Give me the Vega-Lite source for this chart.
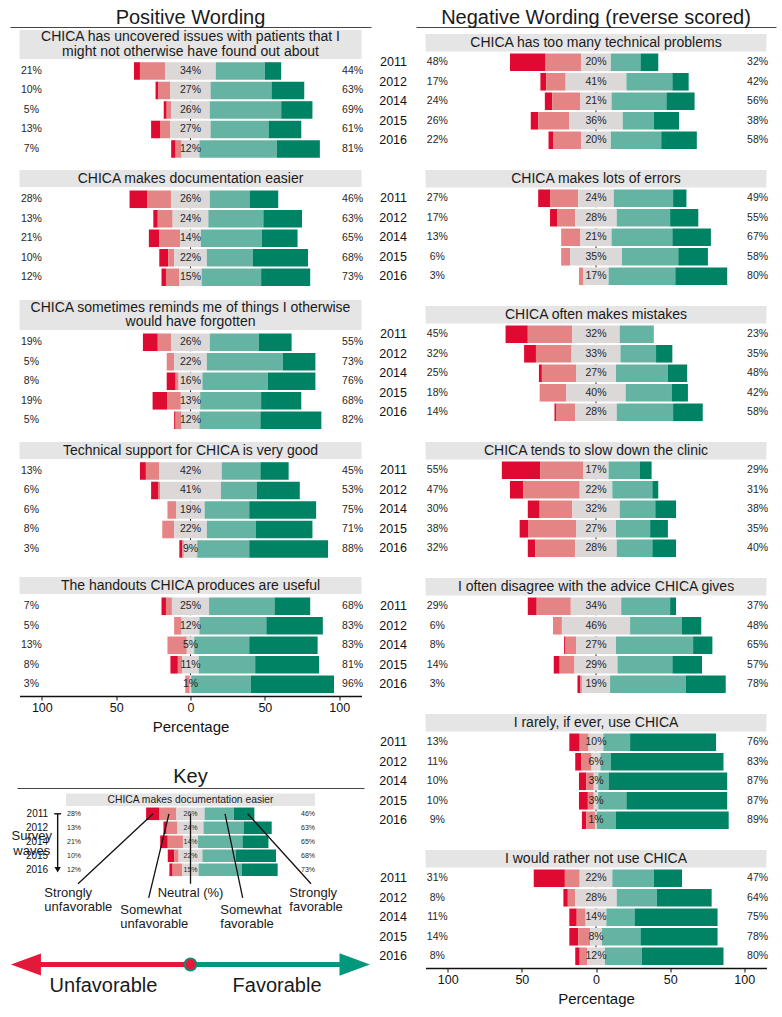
{
"$schema": "https://vega.github.io/schema/vega-lite/v6.json",
"padding": {"left": 10, "top": 5, "right": 2, "bottom": 2},
"config": {"view": {"stroke": null}, "font": "Liberation Sans", "text": {"font": "Liberation Sans"}, "axis": {"labelFont": "Liberation Sans", "titleFont": "Liberation Sans"}},
"datasets": {
"titles": [
{"q":"P1","t":"CHICA has uncovered issues with patients that I\nmight not otherwise have found out about"},
{"q":"P2","t":"CHICA makes documentation easier"},
{"q":"P3","t":"CHICA sometimes reminds me of things I otherwise\nwould have forgotten"},
{"q":"P4","t":"Technical support for CHICA is very good"},
{"q":"P5","t":"The handouts CHICA produces are useful"},
{"q":"N1","t":"CHICA has too many technical problems"},
{"q":"N2","t":"CHICA makes lots of errors"},
{"q":"N3","t":"CHICA often makes mistakes"},
{"q":"N4","t":"CHICA tends to slow down the clinic"},
{"q":"N5","t":"I often disagree with the advice CHICA gives"},
{"q":"N6","t":"I rarely, if ever, use CHICA"},
{"q":"N7","t":"I would rather not use CHICA"}
],
"bars": [
{"q":"P1","year":"2011","su":4,"wu":17,"n":34,"wf":33,"sf":11},
{"q":"P1","year":"2012","su":2,"wu":8,"n":27,"wf":41,"sf":22},
{"q":"P1","year":"2014","su":2,"wu":3,"n":26,"wf":48,"sf":21},
{"q":"P1","year":"2015","su":6,"wu":7,"n":27,"wf":39,"sf":22},
{"q":"P1","year":"2016","su":3,"wu":4,"n":12,"wf":52,"sf":29},
{"q":"P2","year":"2011","su":12,"wu":16,"n":26,"wf":27,"sf":19},
{"q":"P2","year":"2012","su":3,"wu":10,"n":24,"wf":37,"sf":26},
{"q":"P2","year":"2014","su":7,"wu":14,"n":14,"wf":41,"sf":24},
{"q":"P2","year":"2015","su":6,"wu":4,"n":22,"wf":31,"sf":37},
{"q":"P2","year":"2016","su":3,"wu":9,"n":15,"wf":40,"sf":33},
{"q":"P3","year":"2011","su":10,"wu":9,"n":26,"wf":33,"sf":22},
{"q":"P3","year":"2012","su":0,"wu":5,"n":22,"wf":51,"sf":22},
{"q":"P3","year":"2014","su":6,"wu":2,"n":16,"wf":44,"sf":32},
{"q":"P3","year":"2015","su":10,"wu":9,"n":13,"wf":41,"sf":27},
{"q":"P3","year":"2016","su":1,"wu":4,"n":12,"wf":41,"sf":41},
{"q":"P4","year":"2011","su":4,"wu":9,"n":42,"wf":26,"sf":19},
{"q":"P4","year":"2012","su":5,"wu":1,"n":41,"wf":24,"sf":29},
{"q":"P4","year":"2014","su":0,"wu":6,"n":19,"wf":30,"sf":45},
{"q":"P4","year":"2015","su":0,"wu":8,"n":22,"wf":33,"sf":38},
{"q":"P4","year":"2016","su":2,"wu":1,"n":9,"wf":35,"sf":53},
{"q":"P5","year":"2011","su":3,"wu":4,"n":25,"wf":44,"sf":24},
{"q":"P5","year":"2012","su":0,"wu":5,"n":12,"wf":45,"sf":38},
{"q":"P5","year":"2014","su":0,"wu":13,"n":5,"wf":37,"sf":46},
{"q":"P5","year":"2015","su":5,"wu":3,"n":11,"wf":38,"sf":43},
{"q":"P5","year":"2016","su":0,"wu":3,"n":1,"wf":40,"sf":56},
{"q":"N1","year":"2011","su":24,"wu":24,"n":20,"wf":20,"sf":12},
{"q":"N1","year":"2012","su":4,"wu":13,"n":41,"wf":31,"sf":11},
{"q":"N1","year":"2014","su":5,"wu":19,"n":21,"wf":37,"sf":19},
{"q":"N1","year":"2015","su":5,"wu":21,"n":36,"wf":21,"sf":17},
{"q":"N1","year":"2016","su":3,"wu":19,"n":20,"wf":34,"sf":24},
{"q":"N2","year":"2011","su":8,"wu":19,"n":24,"wf":40,"sf":9},
{"q":"N2","year":"2012","su":5,"wu":12,"n":28,"wf":36,"sf":19},
{"q":"N2","year":"2014","su":0,"wu":13,"n":21,"wf":41,"sf":26},
{"q":"N2","year":"2015","su":0,"wu":6,"n":35,"wf":38,"sf":20},
{"q":"N2","year":"2016","su":0,"wu":3,"n":17,"wf":45,"sf":35},
{"q":"N3","year":"2011","su":15,"wu":30,"n":32,"wf":23,"sf":0},
{"q":"N3","year":"2012","su":8,"wu":24,"n":33,"wf":24,"sf":11},
{"q":"N3","year":"2014","su":2,"wu":23,"n":27,"wf":35,"sf":13},
{"q":"N3","year":"2015","su":0,"wu":18,"n":40,"wf":31,"sf":11},
{"q":"N3","year":"2016","su":1,"wu":13,"n":28,"wf":38,"sf":20},
{"q":"N4","year":"2011","su":26,"wu":29,"n":17,"wf":21,"sf":8},
{"q":"N4","year":"2012","su":9,"wu":38,"n":22,"wf":27,"sf":4},
{"q":"N4","year":"2014","su":8,"wu":22,"n":32,"wf":24,"sf":14},
{"q":"N4","year":"2015","su":6,"wu":32,"n":27,"wf":23,"sf":12},
{"q":"N4","year":"2016","su":5,"wu":27,"n":28,"wf":24,"sf":16},
{"q":"N5","year":"2011","su":6,"wu":23,"n":34,"wf":33,"sf":4},
{"q":"N5","year":"2012","su":0,"wu":6,"n":46,"wf":35,"sf":13},
{"q":"N5","year":"2014","su":1,"wu":7,"n":27,"wf":52,"sf":13},
{"q":"N5","year":"2015","su":4,"wu":10,"n":29,"wf":37,"sf":20},
{"q":"N5","year":"2016","su":2,"wu":1,"n":19,"wf":51,"sf":27},
{"q":"N6","year":"2011","su":7,"wu":6,"n":10,"wf":18,"sf":58},
{"q":"N6","year":"2012","su":4,"wu":7,"n":6,"wf":7,"sf":76},
{"q":"N6","year":"2014","su":5,"wu":5,"n":3,"wf":7,"sf":80},
{"q":"N6","year":"2015","su":6,"wu":4,"n":3,"wf":19,"sf":68},
{"q":"N6","year":"2016","su":3,"wu":6,"n":1,"wf":13,"sf":76},
{"q":"N7","year":"2011","su":21,"wu":10,"n":22,"wf":28,"sf":19},
{"q":"N7","year":"2012","su":3,"wu":5,"n":28,"wf":27,"sf":37},
{"q":"N7","year":"2014","su":5,"wu":6,"n":14,"wf":19,"sf":56},
{"q":"N7","year":"2015","su":6,"wu":8,"n":8,"wf":26,"sf":52},
{"q":"N7","year":"2016","su":3,"wu":5,"n":12,"wf":25,"sf":55}
]
},
"spacing": 7,
"hconcat": [
{
"vconcat": [
{"width": 361, "height": 25, "data": {"values": [{}]},
 "mark": {"type": "text", "fontSize": 20, "color": "#1a1a1a"},
 "encoding": {"text": {"value": "Positive Wording"}, "x": {"datum": 0, "type": "quantitative", "scale": {"domain": [-1, 1]}, "axis": {"domain": true, "domainColor": "#444", "domainWidth": 1, "ticks": false, "labels": false, "grid": false, "title": null, "offset": -3}}}},

{"width": 342, "height": 29, "view": {"fill": "#e5e5e5", "stroke": null}, "data": {"name": "titles"}, "transform": [{"filter": "datum.q == 'P1'"}],
 "mark": {"type": "text", "fontSize": 14, "lineBreak": "\n", "lineHeight": 14.5, "dy": -7.25, "color": "#1a1a1a"}, "encoding": {"text": {"field": "t", "type": "nominal"}}},
{"width": 342, "height": 111, "data": {"name": "bars"}, "transform": [{"filter": "datum.q == 'P1'"}],
 "layer": [
  {"data": {"name": "titles"}, "transform": [{"filter": "datum.q == 'P1'"}], "mark": {"type": "rule", "strokeDash": [3, 3], "color": "#222", "strokeWidth": 1},
   "encoding": {"x": {"datum": 0, "type": "quantitative", "scale": {"domain": [-115, 115], "nice": false, "zero": false}, "axis": null}, "y": {"datum": "2011", "type": "nominal", "scale": {"type": "band", "domain": ["2011","2012","2014","2015","2016"], "paddingInner": 0.1, "paddingOuter": 0.3962, "align": 0.207}, "axis": null}, "y2": {"datum": "2016"}}},
  {"transform": [{"fold": ["su","wu","n","wf","sf"], "as": ["cat","v"]}, {"calculate": "indexof(['su','wu','n','wf','sf'], datum.cat)", "as": "ord"}, {"stack": "v", "groupby": ["year"], "sort": [{"field": "ord", "order": "ascending"}], "as": ["s0","s1"]}, {"calculate": "datum.s0 - datum.su - datum.wu - datum.n / 2", "as": "x0"}, {"calculate": "datum.s1 - datum.su - datum.wu - datum.n / 2", "as": "x1"}],
   "mark": {"type": "bar"},
   "encoding": {"y": {"field": "year", "type": "nominal", "scale": {"type": "band", "domain": ["2011","2012","2014","2015","2016"], "paddingInner": 0.1, "paddingOuter": 0.3962, "align": 0.207}, "axis": null}, "x": {"field": "x0", "type": "quantitative", "scale": {"domain": [-115, 115], "nice": false, "zero": false}, "axis": null}, "x2": {"field": "x1"}, "color": {"field": "cat", "type": "nominal", "scale": {"domain": ["su","wu","n","wf","sf"], "range": ["#df0a32","#e58484","#dbd8d7","#65b3a2","#008265"]}, "legend": null}}},
  {"transform": [{"calculate": "(datum.su + datum.wu) + '%'", "as": "lab"}], "mark": {"type": "text", "fontSize": 10.5, "color": "#262626"},
   "encoding": {"y": {"field": "year", "type": "nominal", "scale": {"type": "band", "domain": ["2011","2012","2014","2015","2016"], "paddingInner": 0.1, "paddingOuter": 0.3962, "align": 0.207}, "axis": null}, "x": {"datum": -107, "type": "quantitative", "scale": {"domain": [-115, 115], "nice": false, "zero": false}, "axis": null}, "text": {"field": "lab"}}},
  {"transform": [{"calculate": "datum.n + '%'", "as": "lab"}], "mark": {"type": "text", "fontSize": 10.5, "color": "#262626"},
   "encoding": {"y": {"field": "year", "type": "nominal", "scale": {"type": "band", "domain": ["2011","2012","2014","2015","2016"], "paddingInner": 0.1, "paddingOuter": 0.3962, "align": 0.207}, "axis": null}, "x": {"datum": 0, "type": "quantitative", "scale": {"domain": [-115, 115], "nice": false, "zero": false}, "axis": null}, "text": {"field": "lab"}}},
  {"transform": [{"calculate": "(datum.wf + datum.sf) + '%'", "as": "lab"}], "mark": {"type": "text", "fontSize": 10.5, "color": "#262626"},
   "encoding": {"y": {"field": "year", "type": "nominal", "scale": {"type": "band", "domain": ["2011","2012","2014","2015","2016"], "paddingInner": 0.1, "paddingOuter": 0.3962, "align": 0.207}, "axis": null}, "x": {"datum": 109, "type": "quantitative", "scale": {"domain": [-115, 115], "nice": false, "zero": false}, "axis": null}, "text": {"field": "lab"}}}
 ]},

{"width": 342, "height": 17, "view": {"fill": "#e5e5e5", "stroke": null}, "data": {"name": "titles"}, "transform": [{"filter": "datum.q == 'P2'"}],
 "mark": {"type": "text", "fontSize": 14, "lineBreak": "\n", "lineHeight": 14.5, "color": "#1a1a1a"}, "encoding": {"text": {"field": "t", "type": "nominal"}}},
{"width": 342, "height": 113, "data": {"name": "bars"}, "transform": [{"filter": "datum.q == 'P2'"}],
 "layer": [
  {"data": {"name": "titles"}, "transform": [{"filter": "datum.q == 'P2'"}], "mark": {"type": "rule", "strokeDash": [3, 3], "color": "#222", "strokeWidth": 1},
   "encoding": {"x": {"datum": 0, "type": "quantitative", "scale": {"domain": [-115, 115], "nice": false, "zero": false}, "axis": null}, "y": {"datum": "2011", "type": "nominal", "scale": {"type": "band", "domain": ["2011","2012","2014","2015","2016"], "paddingInner": 0.1, "paddingOuter": 0.4474, "align": 0.2006}, "axis": null}, "y2": {"datum": "2016"}}},
  {"transform": [{"fold": ["su","wu","n","wf","sf"], "as": ["cat","v"]}, {"calculate": "indexof(['su','wu','n','wf','sf'], datum.cat)", "as": "ord"}, {"stack": "v", "groupby": ["year"], "sort": [{"field": "ord", "order": "ascending"}], "as": ["s0","s1"]}, {"calculate": "datum.s0 - datum.su - datum.wu - datum.n / 2", "as": "x0"}, {"calculate": "datum.s1 - datum.su - datum.wu - datum.n / 2", "as": "x1"}],
   "mark": {"type": "bar"},
   "encoding": {"y": {"field": "year", "type": "nominal", "scale": {"type": "band", "domain": ["2011","2012","2014","2015","2016"], "paddingInner": 0.1, "paddingOuter": 0.4474, "align": 0.2006}, "axis": null}, "x": {"field": "x0", "type": "quantitative", "scale": {"domain": [-115, 115], "nice": false, "zero": false}, "axis": null}, "x2": {"field": "x1"}, "color": {"field": "cat", "type": "nominal", "scale": {"domain": ["su","wu","n","wf","sf"], "range": ["#df0a32","#e58484","#dbd8d7","#65b3a2","#008265"]}, "legend": null}}},
  {"transform": [{"calculate": "(datum.su + datum.wu) + '%'", "as": "lab"}], "mark": {"type": "text", "fontSize": 10.5, "color": "#262626"},
   "encoding": {"y": {"field": "year", "type": "nominal", "scale": {"type": "band", "domain": ["2011","2012","2014","2015","2016"], "paddingInner": 0.1, "paddingOuter": 0.4474, "align": 0.2006}, "axis": null}, "x": {"datum": -107, "type": "quantitative", "scale": {"domain": [-115, 115], "nice": false, "zero": false}, "axis": null}, "text": {"field": "lab"}}},
  {"transform": [{"calculate": "datum.n + '%'", "as": "lab"}], "mark": {"type": "text", "fontSize": 10.5, "color": "#262626"},
   "encoding": {"y": {"field": "year", "type": "nominal", "scale": {"type": "band", "domain": ["2011","2012","2014","2015","2016"], "paddingInner": 0.1, "paddingOuter": 0.4474, "align": 0.2006}, "axis": null}, "x": {"datum": 0, "type": "quantitative", "scale": {"domain": [-115, 115], "nice": false, "zero": false}, "axis": null}, "text": {"field": "lab"}}},
  {"transform": [{"calculate": "(datum.wf + datum.sf) + '%'", "as": "lab"}], "mark": {"type": "text", "fontSize": 10.5, "color": "#262626"},
   "encoding": {"y": {"field": "year", "type": "nominal", "scale": {"type": "band", "domain": ["2011","2012","2014","2015","2016"], "paddingInner": 0.1, "paddingOuter": 0.4474, "align": 0.2006}, "axis": null}, "x": {"datum": 109, "type": "quantitative", "scale": {"domain": [-115, 115], "nice": false, "zero": false}, "axis": null}, "text": {"field": "lab"}}}
 ]},

{"width": 342, "height": 30, "view": {"fill": "#e5e5e5", "stroke": null}, "data": {"name": "titles"}, "transform": [{"filter": "datum.q == 'P3'"}],
 "mark": {"type": "text", "fontSize": 14, "lineBreak": "\n", "lineHeight": 14.5, "dy": -7.25, "color": "#1a1a1a"}, "encoding": {"text": {"field": "t", "type": "nominal"}}},
{"width": 342, "height": 112, "data": {"name": "bars"}, "transform": [{"filter": "datum.q == 'P3'"}],
 "layer": [
  {"data": {"name": "titles"}, "transform": [{"filter": "datum.q == 'P3'"}], "mark": {"type": "rule", "strokeDash": [3, 3], "color": "#222", "strokeWidth": 1},
   "encoding": {"x": {"datum": 0, "type": "quantitative", "scale": {"domain": [-115, 115], "nice": false, "zero": false}, "axis": null}, "y": {"datum": "2011", "type": "nominal", "scale": {"type": "band", "domain": ["2011","2012","2014","2015","2016"], "paddingInner": 0.1, "paddingOuter": 0.4218, "align": 0.2128}, "axis": null}, "y2": {"datum": "2016"}}},
  {"transform": [{"fold": ["su","wu","n","wf","sf"], "as": ["cat","v"]}, {"calculate": "indexof(['su','wu','n','wf','sf'], datum.cat)", "as": "ord"}, {"stack": "v", "groupby": ["year"], "sort": [{"field": "ord", "order": "ascending"}], "as": ["s0","s1"]}, {"calculate": "datum.s0 - datum.su - datum.wu - datum.n / 2", "as": "x0"}, {"calculate": "datum.s1 - datum.su - datum.wu - datum.n / 2", "as": "x1"}],
   "mark": {"type": "bar"},
   "encoding": {"y": {"field": "year", "type": "nominal", "scale": {"type": "band", "domain": ["2011","2012","2014","2015","2016"], "paddingInner": 0.1, "paddingOuter": 0.4218, "align": 0.2128}, "axis": null}, "x": {"field": "x0", "type": "quantitative", "scale": {"domain": [-115, 115], "nice": false, "zero": false}, "axis": null}, "x2": {"field": "x1"}, "color": {"field": "cat", "type": "nominal", "scale": {"domain": ["su","wu","n","wf","sf"], "range": ["#df0a32","#e58484","#dbd8d7","#65b3a2","#008265"]}, "legend": null}}},
  {"transform": [{"calculate": "(datum.su + datum.wu) + '%'", "as": "lab"}], "mark": {"type": "text", "fontSize": 10.5, "color": "#262626"},
   "encoding": {"y": {"field": "year", "type": "nominal", "scale": {"type": "band", "domain": ["2011","2012","2014","2015","2016"], "paddingInner": 0.1, "paddingOuter": 0.4218, "align": 0.2128}, "axis": null}, "x": {"datum": -107, "type": "quantitative", "scale": {"domain": [-115, 115], "nice": false, "zero": false}, "axis": null}, "text": {"field": "lab"}}},
  {"transform": [{"calculate": "datum.n + '%'", "as": "lab"}], "mark": {"type": "text", "fontSize": 10.5, "color": "#262626"},
   "encoding": {"y": {"field": "year", "type": "nominal", "scale": {"type": "band", "domain": ["2011","2012","2014","2015","2016"], "paddingInner": 0.1, "paddingOuter": 0.4218, "align": 0.2128}, "axis": null}, "x": {"datum": 0, "type": "quantitative", "scale": {"domain": [-115, 115], "nice": false, "zero": false}, "axis": null}, "text": {"field": "lab"}}},
  {"transform": [{"calculate": "(datum.wf + datum.sf) + '%'", "as": "lab"}], "mark": {"type": "text", "fontSize": 10.5, "color": "#262626"},
   "encoding": {"y": {"field": "year", "type": "nominal", "scale": {"type": "band", "domain": ["2011","2012","2014","2015","2016"], "paddingInner": 0.1, "paddingOuter": 0.4218, "align": 0.2128}, "axis": null}, "x": {"datum": 109, "type": "quantitative", "scale": {"domain": [-115, 115], "nice": false, "zero": false}, "axis": null}, "text": {"field": "lab"}}}
 ]},

{"width": 342, "height": 17, "view": {"fill": "#e5e5e5", "stroke": null}, "data": {"name": "titles"}, "transform": [{"filter": "datum.q == 'P4'"}],
 "mark": {"type": "text", "fontSize": 14, "lineBreak": "\n", "lineHeight": 14.5, "color": "#1a1a1a"}, "encoding": {"text": {"field": "t", "type": "nominal"}}},
{"width": 342, "height": 118, "data": {"name": "bars"}, "transform": [{"filter": "datum.q == 'P4'"}],
 "layer": [
  {"data": {"name": "titles"}, "transform": [{"filter": "datum.q == 'P4'"}], "mark": {"type": "rule", "strokeDash": [3, 3], "color": "#222", "strokeWidth": 1},
   "encoding": {"x": {"datum": 0, "type": "quantitative", "scale": {"domain": [-115, 115], "nice": false, "zero": false}, "axis": null}, "y": {"datum": "2011", "type": "nominal", "scale": {"type": "band", "domain": ["2011","2012","2014","2015","2016"], "paddingInner": 0.1, "paddingOuter": 0.5756, "align": 0.1425}, "axis": null}, "y2": {"datum": "2016"}}},
  {"transform": [{"fold": ["su","wu","n","wf","sf"], "as": ["cat","v"]}, {"calculate": "indexof(['su','wu','n','wf','sf'], datum.cat)", "as": "ord"}, {"stack": "v", "groupby": ["year"], "sort": [{"field": "ord", "order": "ascending"}], "as": ["s0","s1"]}, {"calculate": "datum.s0 - datum.su - datum.wu - datum.n / 2", "as": "x0"}, {"calculate": "datum.s1 - datum.su - datum.wu - datum.n / 2", "as": "x1"}],
   "mark": {"type": "bar"},
   "encoding": {"y": {"field": "year", "type": "nominal", "scale": {"type": "band", "domain": ["2011","2012","2014","2015","2016"], "paddingInner": 0.1, "paddingOuter": 0.5756, "align": 0.1425}, "axis": null}, "x": {"field": "x0", "type": "quantitative", "scale": {"domain": [-115, 115], "nice": false, "zero": false}, "axis": null}, "x2": {"field": "x1"}, "color": {"field": "cat", "type": "nominal", "scale": {"domain": ["su","wu","n","wf","sf"], "range": ["#df0a32","#e58484","#dbd8d7","#65b3a2","#008265"]}, "legend": null}}},
  {"transform": [{"calculate": "(datum.su + datum.wu) + '%'", "as": "lab"}], "mark": {"type": "text", "fontSize": 10.5, "color": "#262626"},
   "encoding": {"y": {"field": "year", "type": "nominal", "scale": {"type": "band", "domain": ["2011","2012","2014","2015","2016"], "paddingInner": 0.1, "paddingOuter": 0.5756, "align": 0.1425}, "axis": null}, "x": {"datum": -107, "type": "quantitative", "scale": {"domain": [-115, 115], "nice": false, "zero": false}, "axis": null}, "text": {"field": "lab"}}},
  {"transform": [{"calculate": "datum.n + '%'", "as": "lab"}], "mark": {"type": "text", "fontSize": 10.5, "color": "#262626"},
   "encoding": {"y": {"field": "year", "type": "nominal", "scale": {"type": "band", "domain": ["2011","2012","2014","2015","2016"], "paddingInner": 0.1, "paddingOuter": 0.5756, "align": 0.1425}, "axis": null}, "x": {"datum": 0, "type": "quantitative", "scale": {"domain": [-115, 115], "nice": false, "zero": false}, "axis": null}, "text": {"field": "lab"}}},
  {"transform": [{"calculate": "(datum.wf + datum.sf) + '%'", "as": "lab"}], "mark": {"type": "text", "fontSize": 10.5, "color": "#262626"},
   "encoding": {"y": {"field": "year", "type": "nominal", "scale": {"type": "band", "domain": ["2011","2012","2014","2015","2016"], "paddingInner": 0.1, "paddingOuter": 0.5756, "align": 0.1425}, "axis": null}, "x": {"datum": 109, "type": "quantitative", "scale": {"domain": [-115, 115], "nice": false, "zero": false}, "axis": null}, "text": {"field": "lab"}}}
 ]},

{"width": 342, "height": 17, "view": {"fill": "#e5e5e5", "stroke": null}, "data": {"name": "titles"}, "transform": [{"filter": "datum.q == 'P5'"}],
 "mark": {"type": "text", "fontSize": 14, "lineBreak": "\n", "lineHeight": 14.5, "color": "#1a1a1a"}, "encoding": {"text": {"field": "t", "type": "nominal"}}},
{"width": 342, "height": 102, "data": {"name": "bars"}, "transform": [{"filter": "datum.q == 'P5'"}],
 "layer": [
  {"data": {"name": "titles"}, "transform": [{"filter": "datum.q == 'P5'"}], "mark": {"type": "rule", "strokeDash": [3, 3], "color": "#222", "strokeWidth": 1},
   "encoding": {"x": {"datum": 0, "type": "quantitative", "scale": {"domain": [-115, 115], "nice": false, "zero": false}}, "y": {"datum": "2011", "type": "nominal", "scale": {"type": "band", "domain": ["2011","2012","2014","2015","2016"], "paddingInner": 0.1, "paddingOuter": 0.1654, "align": 0.5426}, "axis": null}, "y2": {"datum": "2016"}}},
  {"transform": [{"fold": ["su","wu","n","wf","sf"], "as": ["cat","v"]}, {"calculate": "indexof(['su','wu','n','wf','sf'], datum.cat)", "as": "ord"}, {"stack": "v", "groupby": ["year"], "sort": [{"field": "ord", "order": "ascending"}], "as": ["s0","s1"]}, {"calculate": "datum.s0 - datum.su - datum.wu - datum.n / 2", "as": "x0"}, {"calculate": "datum.s1 - datum.su - datum.wu - datum.n / 2", "as": "x1"}],
   "mark": {"type": "bar"},
   "encoding": {"y": {"field": "year", "type": "nominal", "scale": {"type": "band", "domain": ["2011","2012","2014","2015","2016"], "paddingInner": 0.1, "paddingOuter": 0.1654, "align": 0.5426}, "axis": null}, "x": {"field": "x0", "type": "quantitative", "scale": {"domain": [-115, 115], "nice": false, "zero": false}, "axis": {"values": [-100, -50, 0, 50, 100], "labelExpr": "abs(datum.value)", "title": "Percentage", "titleFontSize": 15, "titleFontWeight": "normal", "titleColor": "#111", "titlePadding": 6, "labelFontSize": 12.5, "labelColor": "#111", "labelPadding": 1, "domainColor": "#111", "domainWidth": 1.6, "tickColor": "#111", "tickSize": 4, "tickWidth": 1, "grid": false}}, "x2": {"field": "x1"}, "color": {"field": "cat", "type": "nominal", "scale": {"domain": ["su","wu","n","wf","sf"], "range": ["#df0a32","#e58484","#dbd8d7","#65b3a2","#008265"]}, "legend": null}}},
  {"transform": [{"calculate": "(datum.su + datum.wu) + '%'", "as": "lab"}], "mark": {"type": "text", "fontSize": 10.5, "color": "#262626"},
   "encoding": {"y": {"field": "year", "type": "nominal", "scale": {"type": "band", "domain": ["2011","2012","2014","2015","2016"], "paddingInner": 0.1, "paddingOuter": 0.1654, "align": 0.5426}, "axis": null}, "x": {"datum": -107, "type": "quantitative", "scale": {"domain": [-115, 115], "nice": false, "zero": false}}, "text": {"field": "lab"}}},
  {"transform": [{"calculate": "datum.n + '%'", "as": "lab"}], "mark": {"type": "text", "fontSize": 10.5, "color": "#262626"},
   "encoding": {"y": {"field": "year", "type": "nominal", "scale": {"type": "band", "domain": ["2011","2012","2014","2015","2016"], "paddingInner": 0.1, "paddingOuter": 0.1654, "align": 0.5426}, "axis": null}, "x": {"datum": 0, "type": "quantitative", "scale": {"domain": [-115, 115], "nice": false, "zero": false}}, "text": {"field": "lab"}}},
  {"transform": [{"calculate": "(datum.wf + datum.sf) + '%'", "as": "lab"}], "mark": {"type": "text", "fontSize": 10.5, "color": "#262626"},
   "encoding": {"y": {"field": "year", "type": "nominal", "scale": {"type": "band", "domain": ["2011","2012","2014","2015","2016"], "paddingInner": 0.1, "paddingOuter": 0.1654, "align": 0.5426}, "axis": null}, "x": {"datum": 109, "type": "quantitative", "scale": {"domain": [-115, 115], "nice": false, "zero": false}}, "text": {"field": "lab"}}}
 ]},

{"width": 10, "height": 70, "data": {"values": [{}]}, "mark": {"type": "text"}, "encoding": {"text": {"value": ""}}},

{"width": 347, "height": 22, "data": {"values": [{}]},
 "mark": {"type": "text", "fontSize": 20, "color": "#1a1a1a"},
 "encoding": {"text": {"value": "Key"}, "x": {"datum": 0, "type": "quantitative", "scale": {"domain": [-1, 1]}, "axis": {"domain": true, "domainColor": "#444", "domainWidth": 1, "ticks": false, "labels": false, "grid": false, "title": null}}}},

{"width": 249, "height": 165.5, "data": {"name": "bars"}, "transform": [{"filter": "datum.q == 'P2'"}],
 "layer": [
  {"data": {"name": "titles"}, "transform": [{"filter": "datum.q == 'P2'"}], "mark": {"type": "rect", "color": "#e5e5e5"},
   "encoding": {"x": {"datum": -115, "type": "quantitative", "scale": {"domain": [-115, 115], "nice": false, "zero": false}, "axis": null}, "x2": {"datum": 115}, "y": {"datum": "h", "type": "nominal", "scale": {"type": "band", "domain": ["h","2011","2012","2014","2015","2016","L1","L2","L3","L4"], "paddingInner": 0.1, "paddingOuter": 0.9607, "align": 0.2045}, "axis": null}}},
  {"data": {"name": "titles"}, "transform": [{"filter": "datum.q == 'P2'"}], "mark": {"type": "text", "fontSize": 10.3, "color": "#1a1a1a"},
   "encoding": {"x": {"datum": 0, "type": "quantitative", "scale": {"domain": [-115, 115], "nice": false, "zero": false}, "axis": null}, "y": {"datum": "h", "type": "nominal", "scale": {"type": "band", "domain": ["h","2011","2012","2014","2015","2016","L1","L2","L3","L4"], "paddingInner": 0.1, "paddingOuter": 0.9607, "align": 0.2045}, "axis": null}, "text": {"field": "t", "type": "nominal"}}},
  {"transform": [{"fold": ["su","wu","n","wf","sf"], "as": ["cat","v"]}, {"calculate": "indexof(['su','wu','n','wf','sf'], datum.cat)", "as": "ord"}, {"stack": "v", "groupby": ["year"], "sort": [{"field": "ord", "order": "ascending"}], "as": ["s0","s1"]}, {"calculate": "datum.s0 - datum.su - datum.wu - datum.n / 2", "as": "x0"}, {"calculate": "datum.s1 - datum.su - datum.wu - datum.n / 2", "as": "x1"}],
   "mark": {"type": "bar"},
   "encoding": {"y": {"field": "year", "type": "nominal", "scale": {"type": "band", "domain": ["h","2011","2012","2014","2015","2016","L1","L2","L3","L4"], "paddingInner": 0.1, "paddingOuter": 0.9607, "align": 0.2045}, "axis": null}, "x": {"field": "x0", "type": "quantitative", "scale": {"domain": [-115, 115], "nice": false, "zero": false}, "axis": null}, "x2": {"field": "x1"}, "color": {"field": "cat", "type": "nominal", "scale": {"domain": ["su","wu","n","wf","sf"], "range": ["#df0a32","#e58484","#dbd8d7","#65b3a2","#008265"]}, "legend": null}}},
  {"transform": [{"calculate": "(datum.su + datum.wu) + '%'", "as": "lab"}], "mark": {"type": "text", "fontSize": 7, "color": "#262626"},
   "encoding": {"y": {"field": "year", "type": "nominal", "scale": {"type": "band", "domain": ["h","2011","2012","2014","2015","2016","L1","L2","L3","L4"], "paddingInner": 0.1, "paddingOuter": 0.9607, "align": 0.2045}, "axis": null}, "x": {"datum": -107.6, "type": "quantitative", "scale": {"domain": [-115, 115], "nice": false, "zero": false}, "axis": null}, "text": {"field": "lab"}}},
  {"transform": [{"calculate": "datum.n + '%'", "as": "lab"}], "mark": {"type": "text", "fontSize": 7, "color": "#262626"},
   "encoding": {"y": {"field": "year", "type": "nominal", "scale": {"type": "band", "domain": ["h","2011","2012","2014","2015","2016","L1","L2","L3","L4"], "paddingInner": 0.1, "paddingOuter": 0.9607, "align": 0.2045}, "axis": null}, "x": {"datum": 0, "type": "quantitative", "scale": {"domain": [-115, 115], "nice": false, "zero": false}, "axis": null}, "text": {"field": "lab"}}},
  {"transform": [{"calculate": "(datum.wf + datum.sf) + '%'", "as": "lab"}], "mark": {"type": "text", "fontSize": 7, "color": "#262626"},
   "encoding": {"y": {"field": "year", "type": "nominal", "scale": {"type": "band", "domain": ["h","2011","2012","2014","2015","2016","L1","L2","L3","L4"], "paddingInner": 0.1, "paddingOuter": 0.9607, "align": 0.2045}, "axis": null}, "x": {"datum": 108.6, "type": "quantitative", "scale": {"domain": [-115, 115], "nice": false, "zero": false}, "axis": null}, "text": {"field": "lab"}}},
  {"mark": {"type": "text", "fontSize": 10, "align": "right", "color": "#111"},
   "encoding": {"y": {"field": "year", "type": "nominal", "scale": {"type": "band", "domain": ["h","2011","2012","2014","2015","2016","L1","L2","L3","L4"], "paddingInner": 0.1, "paddingOuter": 0.9607, "align": 0.2045}, "axis": null}, "x": {"datum": -131.5, "type": "quantitative", "scale": {"domain": [-115, 115], "nice": false, "zero": false}, "axis": null}, "text": {"field": "year"}}},
  {"data": {"name": "titles"}, "transform": [{"filter": "datum.q == 'P2'"}], "mark": {"type": "text", "fontSize": 13, "lineBreak": "\n", "lineHeight": 15, "dy": -6, "color": "#1a1a1a"},
   "encoding": {"y": {"datum": "2014", "type": "nominal", "scale": {"type": "band", "domain": ["h","2011","2012","2014","2015","2016","L1","L2","L3","L4"], "paddingInner": 0.1, "paddingOuter": 0.9607, "align": 0.2045}, "axis": null}, "x": {"datum": -146.6, "type": "quantitative", "scale": {"domain": [-115, 115], "nice": false, "zero": false}, "axis": null}, "text": {"value": "Survey\nwaves"}}},
  {"data": {"name": "titles"}, "transform": [{"filter": "datum.q == 'P2'"}], "mark": {"type": "rule", "color": "#111", "strokeWidth": 1.4},
   "encoding": {"y": {"datum": "2011", "type": "nominal", "scale": {"type": "band", "domain": ["h","2011","2012","2014","2015","2016","L1","L2","L3","L4"], "paddingInner": 0.1, "paddingOuter": 0.9607, "align": 0.2045}, "axis": null}, "y2": {"datum": "2016"}, "x": {"datum": -122.7, "type": "quantitative", "scale": {"domain": [-115, 115], "nice": false, "zero": false}, "axis": null}}},
  {"data": {"name": "titles"}, "transform": [{"filter": "datum.q == 'P2'"}], "mark": {"type": "rule", "color": "#111", "strokeWidth": 1.4},
   "encoding": {"y": {"datum": "2011", "type": "nominal", "scale": {"type": "band", "domain": ["h","2011","2012","2014","2015","2016","L1","L2","L3","L4"], "paddingInner": 0.1, "paddingOuter": 0.9607, "align": 0.2045}, "axis": null}, "x": {"datum": -125.9, "type": "quantitative", "scale": {"domain": [-115, 115], "nice": false, "zero": false}, "axis": null}, "x2": {"datum": -119.5}}},
  {"data": {"name": "titles"}, "transform": [{"filter": "datum.q == 'P2'"}], "mark": {"type": "point", "shape": "triangle-down", "filled": true, "opacity": 1, "size": 40, "color": "#111"},
   "encoding": {"y": {"datum": "2016", "type": "nominal", "scale": {"type": "band", "domain": ["h","2011","2012","2014","2015","2016","L1","L2","L3","L4"], "paddingInner": 0.1, "paddingOuter": 0.9607, "align": 0.2045}, "axis": null}, "x": {"datum": -122.7, "type": "quantitative", "scale": {"domain": [-115, 115], "nice": false, "zero": false}, "axis": null}}},
  {"data": {"name": "titles"}, "transform": [{"filter": "datum.q == 'P2'"}], "mark": {"type": "rule", "color": "#111", "strokeWidth": 1.3},
   "encoding": {"y": {"datum": "2011", "type": "nominal", "scale": {"type": "band", "domain": ["h","2011","2012","2014","2015","2016","L1","L2","L3","L4"], "paddingInner": 0.1, "paddingOuter": 0.9607, "align": 0.2045}, "axis": null}, "y2": {"datum": "L1"}, "x": {"datum": -34.6, "type": "quantitative", "scale": {"domain": [-115, 115], "nice": false, "zero": false}, "axis": null}, "x2": {"datum": -103.9}}},
  {"data": {"name": "titles"}, "transform": [{"filter": "datum.q == 'P2'"}], "mark": {"type": "rule", "color": "#111", "strokeWidth": 1.3},
   "encoding": {"y": {"datum": "2011", "type": "nominal", "scale": {"type": "band", "domain": ["h","2011","2012","2014","2015","2016","L1","L2","L3","L4"], "paddingInner": 0.1, "paddingOuter": 0.9607, "align": 0.2045}, "axis": null}, "y2": {"datum": "L2"}, "x": {"datum": -19.9, "type": "quantitative", "scale": {"domain": [-115, 115], "nice": false, "zero": false}, "axis": null}, "x2": {"datum": -38.6}}},
  {"data": {"name": "titles"}, "transform": [{"filter": "datum.q == 'P2'"}], "mark": {"type": "rule", "color": "#111", "strokeWidth": 1.3},
   "encoding": {"y": {"datum": "2011", "type": "nominal", "scale": {"type": "band", "domain": ["h","2011","2012","2014","2015","2016","L1","L2","L3","L4"], "paddingInner": 0.1, "paddingOuter": 0.9607, "align": 0.2045}, "axis": null}, "y2": {"datum": "L1"}, "x": {"datum": 0, "type": "quantitative", "scale": {"domain": [-115, 115], "nice": false, "zero": false}, "axis": null}}},
  {"data": {"name": "titles"}, "transform": [{"filter": "datum.q == 'P2'"}], "mark": {"type": "rule", "color": "#111", "strokeWidth": 1.3},
   "encoding": {"y": {"datum": "2011", "type": "nominal", "scale": {"type": "band", "domain": ["h","2011","2012","2014","2015","2016","L1","L2","L3","L4"], "paddingInner": 0.1, "paddingOuter": 0.9607, "align": 0.2045}, "axis": null}, "y2": {"datum": "L2"}, "x": {"datum": 31.9, "type": "quantitative", "scale": {"domain": [-115, 115], "nice": false, "zero": false}, "axis": null}, "x2": {"datum": 48.2}}},
  {"data": {"name": "titles"}, "transform": [{"filter": "datum.q == 'P2'"}], "mark": {"type": "rule", "color": "#111", "strokeWidth": 1.3},
   "encoding": {"y": {"datum": "2011", "type": "nominal", "scale": {"type": "band", "domain": ["h","2011","2012","2014","2015","2016","L1","L2","L3","L4"], "paddingInner": 0.1, "paddingOuter": 0.9607, "align": 0.2045}, "axis": null}, "y2": {"datum": "L1"}, "x": {"datum": 52.8, "type": "quantitative", "scale": {"domain": [-115, 115], "nice": false, "zero": false}, "axis": null}, "x2": {"datum": 111.3}}},
  {"data": {"name": "titles"}, "transform": [{"filter": "datum.q == 'P2'"}], "mark": {"type": "text", "fontSize": 13, "align": "left", "lineBreak": "\n", "lineHeight": 14.6, "dy": -5, "color": "#1a1a1a"},
   "encoding": {"y": {"datum": "L2", "type": "nominal", "scale": {"type": "band", "domain": ["h","2011","2012","2014","2015","2016","L1","L2","L3","L4"], "paddingInner": 0.1, "paddingOuter": 0.9607, "align": 0.2045}, "axis": null}, "x": {"datum": -135, "type": "quantitative", "scale": {"domain": [-115, 115], "nice": false, "zero": false}, "axis": null}, "text": {"value": "Strongly\nunfavorable"}}},
  {"data": {"name": "titles"}, "transform": [{"filter": "datum.q == 'P2'"}], "mark": {"type": "text", "fontSize": 13, "align": "left", "lineBreak": "\n", "lineHeight": 14.6, "dy": -2, "color": "#1a1a1a"},
   "encoding": {"y": {"datum": "L3", "type": "nominal", "scale": {"type": "band", "domain": ["h","2011","2012","2014","2015","2016","L1","L2","L3","L4"], "paddingInner": 0.1, "paddingOuter": 0.9607, "align": 0.2045}, "axis": null}, "x": {"datum": -64.8, "type": "quantitative", "scale": {"domain": [-115, 115], "nice": false, "zero": false}, "axis": null}, "text": {"value": "Somewhat\nunfavorable"}}},
  {"data": {"name": "titles"}, "transform": [{"filter": "datum.q == 'P2'"}], "mark": {"type": "text", "fontSize": 13, "align": "center", "dy": 9, "color": "#1a1a1a"},
   "encoding": {"y": {"datum": "L1", "type": "nominal", "scale": {"type": "band", "domain": ["h","2011","2012","2014","2015","2016","L1","L2","L3","L4"], "paddingInner": 0.1, "paddingOuter": 0.9607, "align": 0.2045}, "axis": null}, "x": {"datum": 0, "type": "quantitative", "scale": {"domain": [-115, 115], "nice": false, "zero": false}, "axis": null}, "text": {"value": "Neutral (%)"}}},
  {"data": {"name": "titles"}, "transform": [{"filter": "datum.q == 'P2'"}], "mark": {"type": "text", "fontSize": 13, "align": "left", "lineBreak": "\n", "lineHeight": 14.6, "dy": -2, "color": "#1a1a1a"},
   "encoding": {"y": {"datum": "L3", "type": "nominal", "scale": {"type": "band", "domain": ["h","2011","2012","2014","2015","2016","L1","L2","L3","L4"], "paddingInner": 0.1, "paddingOuter": 0.9607, "align": 0.2045}, "axis": null}, "x": {"datum": 27.5, "type": "quantitative", "scale": {"domain": [-115, 115], "nice": false, "zero": false}, "axis": null}, "text": {"value": "Somewhat\nfavorable"}}},
  {"data": {"name": "titles"}, "transform": [{"filter": "datum.q == 'P2'"}], "mark": {"type": "text", "fontSize": 13, "align": "left", "lineBreak": "\n", "lineHeight": 14.6, "dy": -5, "color": "#1a1a1a"},
   "encoding": {"y": {"datum": "L2", "type": "nominal", "scale": {"type": "band", "domain": ["h","2011","2012","2014","2015","2016","L1","L2","L3","L4"], "paddingInner": 0.1, "paddingOuter": 0.9607, "align": 0.2045}, "axis": null}, "x": {"datum": 91.3, "type": "quantitative", "scale": {"domain": [-115, 115], "nice": false, "zero": false}, "axis": null}, "text": {"value": "Strongly\nfavorable"}}}
 ]},

{"width": 360, "height": 42, "data": {"values": [{}]},
 "layer": [
  {"mark": {"type": "rule", "color": "#e3193a", "strokeWidth": 5},
   "encoding": {"x": {"datum": -104, "type": "quantitative", "scale": {"domain": [-120, 120], "nice": false, "zero": false}, "axis": null}, "x2": {"datum": 0}, "y": {"datum": "a", "type": "nominal", "scale": {"type": "band", "domain": ["a", "t"], "paddingInner": 0, "paddingOuter": 0}, "axis": null}}},
  {"mark": {"type": "rule", "color": "#00977c", "strokeWidth": 5},
   "encoding": {"x": {"datum": 0, "type": "quantitative", "scale": {"domain": [-120, 120], "nice": false, "zero": false}, "axis": null}, "x2": {"datum": 104}, "y": {"datum": "a", "type": "nominal", "scale": {"type": "band", "domain": ["a", "t"], "paddingInner": 0, "paddingOuter": 0}, "axis": null}}},
  {"mark": {"type": "point", "shape": "M -1 0 L 1 -0.733 L 1 0.733 Z", "filled": true, "opacity": 1, "size": 900, "color": "#e3193a"},
   "encoding": {"x": {"datum": -109.7, "type": "quantitative", "scale": {"domain": [-120, 120], "nice": false, "zero": false}, "axis": null}, "y": {"datum": "a", "type": "nominal", "scale": {"type": "band", "domain": ["a", "t"], "paddingInner": 0, "paddingOuter": 0}, "axis": null}}},
  {"mark": {"type": "point", "shape": "M 1 0 L -1 -0.733 L -1 0.733 Z", "filled": true, "opacity": 1, "size": 930, "color": "#00977c"},
   "encoding": {"x": {"datum": 109.5, "type": "quantitative", "scale": {"domain": [-120, 120], "nice": false, "zero": false}, "axis": null}, "y": {"datum": "a", "type": "nominal", "scale": {"type": "band", "domain": ["a", "t"], "paddingInner": 0, "paddingOuter": 0}, "axis": null}}},
  {"mark": {"type": "point", "shape": "circle", "filled": true, "opacity": 1, "size": 140, "fill": "#e3193a", "stroke": "#138a72", "strokeWidth": 2},
   "encoding": {"x": {"datum": 0, "type": "quantitative", "scale": {"domain": [-120, 120], "nice": false, "zero": false}, "axis": null}, "y": {"datum": "a", "type": "nominal", "scale": {"type": "band", "domain": ["a", "t"], "paddingInner": 0, "paddingOuter": 0}, "axis": null}}},
  {"mark": {"type": "text", "fontSize": 20, "color": "#1a1a1a"},
   "encoding": {"x": {"datum": -58, "type": "quantitative", "scale": {"domain": [-120, 120], "nice": false, "zero": false}, "axis": null}, "y": {"datum": "t", "type": "nominal", "scale": {"type": "band", "domain": ["a", "t"], "paddingInner": 0, "paddingOuter": 0}, "axis": null}, "text": {"value": "Unfavorable"}}},
  {"mark": {"type": "text", "fontSize": 20, "color": "#1a1a1a"},
   "encoding": {"x": {"datum": 57.7, "type": "quantitative", "scale": {"domain": [-120, 120], "nice": false, "zero": false}, "axis": null}, "y": {"datum": "t", "type": "nominal", "scale": {"type": "band", "domain": ["a", "t"], "paddingInner": 0, "paddingOuter": 0}, "axis": null}, "text": {"value": "Favorable"}}}
 ]}
],
"spacing": 0, "bounds": "flush", "center": true
},
{
"vconcat": [
{"width": 360, "height": 25, "data": {"values": [{}]},
 "mark": {"type": "text", "fontSize": 20, "color": "#1a1a1a"},
 "encoding": {"text": {"value": "Negative Wording (reverse scored)"}, "x": {"datum": 0, "type": "quantitative", "scale": {"domain": [-1, 1]}, "axis": {"domain": true, "domainColor": "#444", "domainWidth": 1, "ticks": false, "labels": false, "grid": false, "title": null, "offset": -3}}}},

{"width": 341, "height": 140, "data": {"name": "bars"}, "transform": [{"filter": "datum.q == 'N1'"}],
 "layer": [
  {"data": {"name": "titles"}, "transform": [{"filter": "datum.q == 'N1'"}], "mark": {"type": "rule", "strokeDash": [3, 3], "color": "#222", "strokeWidth": 1},
   "encoding": {"x": {"datum": 0, "type": "quantitative", "scale": {"domain": [-115, 115], "nice": false, "zero": false}, "axis": null}, "y": {"datum": "2011", "type": "nominal", "scale": {"type": "band", "domain": ["h","2011","2012","2014","2015","2016"], "paddingInner": 0.1, "paddingOuter": 0.6397, "align": 0.16}}, "y2": {"datum": "2016"}}},
  {"data": {"name": "titles"}, "transform": [{"filter": "datum.q == 'N1'"}], "mark": {"type": "rect", "color": "#e5e5e5"},
   "encoding": {"x": {"datum": -115, "type": "quantitative", "scale": {"domain": [-115, 115], "nice": false, "zero": false}, "axis": null}, "x2": {"datum": 115}, "y": {"datum": "h", "type": "nominal", "scale": {"type": "band", "domain": ["h","2011","2012","2014","2015","2016"], "paddingInner": 0.1, "paddingOuter": 0.6397, "align": 0.16}}}},
  {"data": {"name": "titles"}, "transform": [{"filter": "datum.q == 'N1'"}], "mark": {"type": "text", "fontSize": 14, "color": "#1a1a1a"},
   "encoding": {"x": {"datum": 0, "type": "quantitative", "scale": {"domain": [-115, 115], "nice": false, "zero": false}, "axis": null}, "y": {"datum": "h", "type": "nominal", "scale": {"type": "band", "domain": ["h","2011","2012","2014","2015","2016"], "paddingInner": 0.1, "paddingOuter": 0.6397, "align": 0.16}}, "text": {"field": "t", "type": "nominal"}}},
  {"transform": [{"fold": ["su","wu","n","wf","sf"], "as": ["cat","v"]}, {"calculate": "indexof(['su','wu','n','wf','sf'], datum.cat)", "as": "ord"}, {"stack": "v", "groupby": ["year"], "sort": [{"field": "ord", "order": "ascending"}], "as": ["s0","s1"]}, {"calculate": "datum.s0 - datum.su - datum.wu - datum.n / 2", "as": "x0"}, {"calculate": "datum.s1 - datum.su - datum.wu - datum.n / 2", "as": "x1"}],
   "mark": {"type": "bar"},
   "encoding": {"y": {"field": "year", "type": "nominal", "scale": {"type": "band", "domain": ["h","2011","2012","2014","2015","2016"], "paddingInner": 0.1, "paddingOuter": 0.6397, "align": 0.16}, "axis": {"labelExpr": "datum.value == 'h' ? '' : datum.value", "ticks": false, "domain": false, "labelPadding": 19, "labelFontSize": 12.5, "labelColor": "#111", "title": null, "grid": false}}, "x": {"field": "x0", "type": "quantitative", "scale": {"domain": [-115, 115], "nice": false, "zero": false}, "axis": null}, "x2": {"field": "x1"}, "color": {"field": "cat", "type": "nominal", "scale": {"domain": ["su","wu","n","wf","sf"], "range": ["#df0a32","#e58484","#dbd8d7","#65b3a2","#008265"]}, "legend": null}}},
  {"transform": [{"calculate": "(datum.su + datum.wu) + '%'", "as": "lab"}], "mark": {"type": "text", "fontSize": 10.5, "color": "#262626"},
   "encoding": {"y": {"field": "year", "type": "nominal", "scale": {"type": "band", "domain": ["h","2011","2012","2014","2015","2016"], "paddingInner": 0.1, "paddingOuter": 0.6397, "align": 0.16}}, "x": {"datum": -107, "type": "quantitative", "scale": {"domain": [-115, 115], "nice": false, "zero": false}, "axis": null}, "text": {"field": "lab"}}},
  {"transform": [{"calculate": "datum.n + '%'", "as": "lab"}], "mark": {"type": "text", "fontSize": 10.5, "color": "#262626"},
   "encoding": {"y": {"field": "year", "type": "nominal", "scale": {"type": "band", "domain": ["h","2011","2012","2014","2015","2016"], "paddingInner": 0.1, "paddingOuter": 0.6397, "align": 0.16}}, "x": {"datum": 0, "type": "quantitative", "scale": {"domain": [-115, 115], "nice": false, "zero": false}, "axis": null}, "text": {"field": "lab"}}},
  {"transform": [{"calculate": "(datum.wf + datum.sf) + '%'", "as": "lab"}], "mark": {"type": "text", "fontSize": 10.5, "color": "#262626"},
   "encoding": {"y": {"field": "year", "type": "nominal", "scale": {"type": "band", "domain": ["h","2011","2012","2014","2015","2016"], "paddingInner": 0.1, "paddingOuter": 0.6397, "align": 0.16}}, "x": {"datum": 109, "type": "quantitative", "scale": {"domain": [-115, 115], "nice": false, "zero": false}, "axis": null}, "text": {"field": "lab"}}}
 ]},

{"width": 341, "height": 136, "data": {"name": "bars"}, "transform": [{"filter": "datum.q == 'N2'"}],
 "layer": [
  {"data": {"name": "titles"}, "transform": [{"filter": "datum.q == 'N2'"}], "mark": {"type": "rule", "strokeDash": [3, 3], "color": "#222", "strokeWidth": 1},
   "encoding": {"x": {"datum": 0, "type": "quantitative", "scale": {"domain": [-115, 115], "nice": false, "zero": false}, "axis": null}, "y": {"datum": "2011", "type": "nominal", "scale": {"type": "band", "domain": ["h","2011","2012","2014","2015","2016"], "paddingInner": 0.1, "paddingOuter": 0.5372, "align": 0}}, "y2": {"datum": "2016"}}},
  {"data": {"name": "titles"}, "transform": [{"filter": "datum.q == 'N2'"}], "mark": {"type": "rect", "color": "#e5e5e5"},
   "encoding": {"x": {"datum": -115, "type": "quantitative", "scale": {"domain": [-115, 115], "nice": false, "zero": false}, "axis": null}, "x2": {"datum": 115}, "y": {"datum": "h", "type": "nominal", "scale": {"type": "band", "domain": ["h","2011","2012","2014","2015","2016"], "paddingInner": 0.1, "paddingOuter": 0.5372, "align": 0}}}},
  {"data": {"name": "titles"}, "transform": [{"filter": "datum.q == 'N2'"}], "mark": {"type": "text", "fontSize": 14, "color": "#1a1a1a"},
   "encoding": {"x": {"datum": 0, "type": "quantitative", "scale": {"domain": [-115, 115], "nice": false, "zero": false}, "axis": null}, "y": {"datum": "h", "type": "nominal", "scale": {"type": "band", "domain": ["h","2011","2012","2014","2015","2016"], "paddingInner": 0.1, "paddingOuter": 0.5372, "align": 0}}, "text": {"field": "t", "type": "nominal"}}},
  {"transform": [{"fold": ["su","wu","n","wf","sf"], "as": ["cat","v"]}, {"calculate": "indexof(['su','wu','n','wf','sf'], datum.cat)", "as": "ord"}, {"stack": "v", "groupby": ["year"], "sort": [{"field": "ord", "order": "ascending"}], "as": ["s0","s1"]}, {"calculate": "datum.s0 - datum.su - datum.wu - datum.n / 2", "as": "x0"}, {"calculate": "datum.s1 - datum.su - datum.wu - datum.n / 2", "as": "x1"}],
   "mark": {"type": "bar"},
   "encoding": {"y": {"field": "year", "type": "nominal", "scale": {"type": "band", "domain": ["h","2011","2012","2014","2015","2016"], "paddingInner": 0.1, "paddingOuter": 0.5372, "align": 0}, "axis": {"labelExpr": "datum.value == 'h' ? '' : datum.value", "ticks": false, "domain": false, "labelPadding": 19, "labelFontSize": 12.5, "labelColor": "#111", "title": null, "grid": false}}, "x": {"field": "x0", "type": "quantitative", "scale": {"domain": [-115, 115], "nice": false, "zero": false}, "axis": null}, "x2": {"field": "x1"}, "color": {"field": "cat", "type": "nominal", "scale": {"domain": ["su","wu","n","wf","sf"], "range": ["#df0a32","#e58484","#dbd8d7","#65b3a2","#008265"]}, "legend": null}}},
  {"transform": [{"calculate": "(datum.su + datum.wu) + '%'", "as": "lab"}], "mark": {"type": "text", "fontSize": 10.5, "color": "#262626"},
   "encoding": {"y": {"field": "year", "type": "nominal", "scale": {"type": "band", "domain": ["h","2011","2012","2014","2015","2016"], "paddingInner": 0.1, "paddingOuter": 0.5372, "align": 0}}, "x": {"datum": -107, "type": "quantitative", "scale": {"domain": [-115, 115], "nice": false, "zero": false}, "axis": null}, "text": {"field": "lab"}}},
  {"transform": [{"calculate": "datum.n + '%'", "as": "lab"}], "mark": {"type": "text", "fontSize": 10.5, "color": "#262626"},
   "encoding": {"y": {"field": "year", "type": "nominal", "scale": {"type": "band", "domain": ["h","2011","2012","2014","2015","2016"], "paddingInner": 0.1, "paddingOuter": 0.5372, "align": 0}}, "x": {"datum": 0, "type": "quantitative", "scale": {"domain": [-115, 115], "nice": false, "zero": false}, "axis": null}, "text": {"field": "lab"}}},
  {"transform": [{"calculate": "(datum.wf + datum.sf) + '%'", "as": "lab"}], "mark": {"type": "text", "fontSize": 10.5, "color": "#262626"},
   "encoding": {"y": {"field": "year", "type": "nominal", "scale": {"type": "band", "domain": ["h","2011","2012","2014","2015","2016"], "paddingInner": 0.1, "paddingOuter": 0.5372, "align": 0}}, "x": {"datum": 109, "type": "quantitative", "scale": {"domain": [-115, 115], "nice": false, "zero": false}, "axis": null}, "text": {"field": "lab"}}}
 ]},

{"width": 341, "height": 136, "data": {"name": "bars"}, "transform": [{"filter": "datum.q == 'N3'"}],
 "layer": [
  {"data": {"name": "titles"}, "transform": [{"filter": "datum.q == 'N3'"}], "mark": {"type": "rule", "strokeDash": [3, 3], "color": "#222", "strokeWidth": 1},
   "encoding": {"x": {"datum": 0, "type": "quantitative", "scale": {"domain": [-115, 115], "nice": false, "zero": false}, "axis": null}, "y": {"datum": "2011", "type": "nominal", "scale": {"type": "band", "domain": ["h","2011","2012","2014","2015","2016"], "paddingInner": 0.1, "paddingOuter": 0.5372, "align": 0}}, "y2": {"datum": "2016"}}},
  {"data": {"name": "titles"}, "transform": [{"filter": "datum.q == 'N3'"}], "mark": {"type": "rect", "color": "#e5e5e5"},
   "encoding": {"x": {"datum": -115, "type": "quantitative", "scale": {"domain": [-115, 115], "nice": false, "zero": false}, "axis": null}, "x2": {"datum": 115}, "y": {"datum": "h", "type": "nominal", "scale": {"type": "band", "domain": ["h","2011","2012","2014","2015","2016"], "paddingInner": 0.1, "paddingOuter": 0.5372, "align": 0}}}},
  {"data": {"name": "titles"}, "transform": [{"filter": "datum.q == 'N3'"}], "mark": {"type": "text", "fontSize": 14, "color": "#1a1a1a"},
   "encoding": {"x": {"datum": 0, "type": "quantitative", "scale": {"domain": [-115, 115], "nice": false, "zero": false}, "axis": null}, "y": {"datum": "h", "type": "nominal", "scale": {"type": "band", "domain": ["h","2011","2012","2014","2015","2016"], "paddingInner": 0.1, "paddingOuter": 0.5372, "align": 0}}, "text": {"field": "t", "type": "nominal"}}},
  {"transform": [{"fold": ["su","wu","n","wf","sf"], "as": ["cat","v"]}, {"calculate": "indexof(['su','wu','n','wf','sf'], datum.cat)", "as": "ord"}, {"stack": "v", "groupby": ["year"], "sort": [{"field": "ord", "order": "ascending"}], "as": ["s0","s1"]}, {"calculate": "datum.s0 - datum.su - datum.wu - datum.n / 2", "as": "x0"}, {"calculate": "datum.s1 - datum.su - datum.wu - datum.n / 2", "as": "x1"}],
   "mark": {"type": "bar"},
   "encoding": {"y": {"field": "year", "type": "nominal", "scale": {"type": "band", "domain": ["h","2011","2012","2014","2015","2016"], "paddingInner": 0.1, "paddingOuter": 0.5372, "align": 0}, "axis": {"labelExpr": "datum.value == 'h' ? '' : datum.value", "ticks": false, "domain": false, "labelPadding": 19, "labelFontSize": 12.5, "labelColor": "#111", "title": null, "grid": false}}, "x": {"field": "x0", "type": "quantitative", "scale": {"domain": [-115, 115], "nice": false, "zero": false}, "axis": null}, "x2": {"field": "x1"}, "color": {"field": "cat", "type": "nominal", "scale": {"domain": ["su","wu","n","wf","sf"], "range": ["#df0a32","#e58484","#dbd8d7","#65b3a2","#008265"]}, "legend": null}}},
  {"transform": [{"calculate": "(datum.su + datum.wu) + '%'", "as": "lab"}], "mark": {"type": "text", "fontSize": 10.5, "color": "#262626"},
   "encoding": {"y": {"field": "year", "type": "nominal", "scale": {"type": "band", "domain": ["h","2011","2012","2014","2015","2016"], "paddingInner": 0.1, "paddingOuter": 0.5372, "align": 0}}, "x": {"datum": -107, "type": "quantitative", "scale": {"domain": [-115, 115], "nice": false, "zero": false}, "axis": null}, "text": {"field": "lab"}}},
  {"transform": [{"calculate": "datum.n + '%'", "as": "lab"}], "mark": {"type": "text", "fontSize": 10.5, "color": "#262626"},
   "encoding": {"y": {"field": "year", "type": "nominal", "scale": {"type": "band", "domain": ["h","2011","2012","2014","2015","2016"], "paddingInner": 0.1, "paddingOuter": 0.5372, "align": 0}}, "x": {"datum": 0, "type": "quantitative", "scale": {"domain": [-115, 115], "nice": false, "zero": false}, "axis": null}, "text": {"field": "lab"}}},
  {"transform": [{"calculate": "(datum.wf + datum.sf) + '%'", "as": "lab"}], "mark": {"type": "text", "fontSize": 10.5, "color": "#262626"},
   "encoding": {"y": {"field": "year", "type": "nominal", "scale": {"type": "band", "domain": ["h","2011","2012","2014","2015","2016"], "paddingInner": 0.1, "paddingOuter": 0.5372, "align": 0}}, "x": {"datum": 109, "type": "quantitative", "scale": {"domain": [-115, 115], "nice": false, "zero": false}, "axis": null}, "text": {"field": "lab"}}}
 ]},

{"width": 341, "height": 136, "data": {"name": "bars"}, "transform": [{"filter": "datum.q == 'N4'"}],
 "layer": [
  {"data": {"name": "titles"}, "transform": [{"filter": "datum.q == 'N4'"}], "mark": {"type": "rule", "strokeDash": [3, 3], "color": "#222", "strokeWidth": 1},
   "encoding": {"x": {"datum": 0, "type": "quantitative", "scale": {"domain": [-115, 115], "nice": false, "zero": false}, "axis": null}, "y": {"datum": "2011", "type": "nominal", "scale": {"type": "band", "domain": ["h","2011","2012","2014","2015","2016"], "paddingInner": 0.1, "paddingOuter": 0.5372, "align": 0}}, "y2": {"datum": "2016"}}},
  {"data": {"name": "titles"}, "transform": [{"filter": "datum.q == 'N4'"}], "mark": {"type": "rect", "color": "#e5e5e5"},
   "encoding": {"x": {"datum": -115, "type": "quantitative", "scale": {"domain": [-115, 115], "nice": false, "zero": false}, "axis": null}, "x2": {"datum": 115}, "y": {"datum": "h", "type": "nominal", "scale": {"type": "band", "domain": ["h","2011","2012","2014","2015","2016"], "paddingInner": 0.1, "paddingOuter": 0.5372, "align": 0}}}},
  {"data": {"name": "titles"}, "transform": [{"filter": "datum.q == 'N4'"}], "mark": {"type": "text", "fontSize": 14, "color": "#1a1a1a"},
   "encoding": {"x": {"datum": 0, "type": "quantitative", "scale": {"domain": [-115, 115], "nice": false, "zero": false}, "axis": null}, "y": {"datum": "h", "type": "nominal", "scale": {"type": "band", "domain": ["h","2011","2012","2014","2015","2016"], "paddingInner": 0.1, "paddingOuter": 0.5372, "align": 0}}, "text": {"field": "t", "type": "nominal"}}},
  {"transform": [{"fold": ["su","wu","n","wf","sf"], "as": ["cat","v"]}, {"calculate": "indexof(['su','wu','n','wf','sf'], datum.cat)", "as": "ord"}, {"stack": "v", "groupby": ["year"], "sort": [{"field": "ord", "order": "ascending"}], "as": ["s0","s1"]}, {"calculate": "datum.s0 - datum.su - datum.wu - datum.n / 2", "as": "x0"}, {"calculate": "datum.s1 - datum.su - datum.wu - datum.n / 2", "as": "x1"}],
   "mark": {"type": "bar"},
   "encoding": {"y": {"field": "year", "type": "nominal", "scale": {"type": "band", "domain": ["h","2011","2012","2014","2015","2016"], "paddingInner": 0.1, "paddingOuter": 0.5372, "align": 0}, "axis": {"labelExpr": "datum.value == 'h' ? '' : datum.value", "ticks": false, "domain": false, "labelPadding": 19, "labelFontSize": 12.5, "labelColor": "#111", "title": null, "grid": false}}, "x": {"field": "x0", "type": "quantitative", "scale": {"domain": [-115, 115], "nice": false, "zero": false}, "axis": null}, "x2": {"field": "x1"}, "color": {"field": "cat", "type": "nominal", "scale": {"domain": ["su","wu","n","wf","sf"], "range": ["#df0a32","#e58484","#dbd8d7","#65b3a2","#008265"]}, "legend": null}}},
  {"transform": [{"calculate": "(datum.su + datum.wu) + '%'", "as": "lab"}], "mark": {"type": "text", "fontSize": 10.5, "color": "#262626"},
   "encoding": {"y": {"field": "year", "type": "nominal", "scale": {"type": "band", "domain": ["h","2011","2012","2014","2015","2016"], "paddingInner": 0.1, "paddingOuter": 0.5372, "align": 0}}, "x": {"datum": -107, "type": "quantitative", "scale": {"domain": [-115, 115], "nice": false, "zero": false}, "axis": null}, "text": {"field": "lab"}}},
  {"transform": [{"calculate": "datum.n + '%'", "as": "lab"}], "mark": {"type": "text", "fontSize": 10.5, "color": "#262626"},
   "encoding": {"y": {"field": "year", "type": "nominal", "scale": {"type": "band", "domain": ["h","2011","2012","2014","2015","2016"], "paddingInner": 0.1, "paddingOuter": 0.5372, "align": 0}}, "x": {"datum": 0, "type": "quantitative", "scale": {"domain": [-115, 115], "nice": false, "zero": false}, "axis": null}, "text": {"field": "lab"}}},
  {"transform": [{"calculate": "(datum.wf + datum.sf) + '%'", "as": "lab"}], "mark": {"type": "text", "fontSize": 10.5, "color": "#262626"},
   "encoding": {"y": {"field": "year", "type": "nominal", "scale": {"type": "band", "domain": ["h","2011","2012","2014","2015","2016"], "paddingInner": 0.1, "paddingOuter": 0.5372, "align": 0}}, "x": {"datum": 109, "type": "quantitative", "scale": {"domain": [-115, 115], "nice": false, "zero": false}, "axis": null}, "text": {"field": "lab"}}}
 ]},

{"width": 341, "height": 136, "data": {"name": "bars"}, "transform": [{"filter": "datum.q == 'N5'"}],
 "layer": [
  {"data": {"name": "titles"}, "transform": [{"filter": "datum.q == 'N5'"}], "mark": {"type": "rule", "strokeDash": [3, 3], "color": "#222", "strokeWidth": 1},
   "encoding": {"x": {"datum": 0, "type": "quantitative", "scale": {"domain": [-115, 115], "nice": false, "zero": false}, "axis": null}, "y": {"datum": "2011", "type": "nominal", "scale": {"type": "band", "domain": ["h","2011","2012","2014","2015","2016"], "paddingInner": 0.1, "paddingOuter": 0.5372, "align": 0}}, "y2": {"datum": "2016"}}},
  {"data": {"name": "titles"}, "transform": [{"filter": "datum.q == 'N5'"}], "mark": {"type": "rect", "color": "#e5e5e5"},
   "encoding": {"x": {"datum": -115, "type": "quantitative", "scale": {"domain": [-115, 115], "nice": false, "zero": false}, "axis": null}, "x2": {"datum": 115}, "y": {"datum": "h", "type": "nominal", "scale": {"type": "band", "domain": ["h","2011","2012","2014","2015","2016"], "paddingInner": 0.1, "paddingOuter": 0.5372, "align": 0}}}},
  {"data": {"name": "titles"}, "transform": [{"filter": "datum.q == 'N5'"}], "mark": {"type": "text", "fontSize": 14, "color": "#1a1a1a"},
   "encoding": {"x": {"datum": 0, "type": "quantitative", "scale": {"domain": [-115, 115], "nice": false, "zero": false}, "axis": null}, "y": {"datum": "h", "type": "nominal", "scale": {"type": "band", "domain": ["h","2011","2012","2014","2015","2016"], "paddingInner": 0.1, "paddingOuter": 0.5372, "align": 0}}, "text": {"field": "t", "type": "nominal"}}},
  {"transform": [{"fold": ["su","wu","n","wf","sf"], "as": ["cat","v"]}, {"calculate": "indexof(['su','wu','n','wf','sf'], datum.cat)", "as": "ord"}, {"stack": "v", "groupby": ["year"], "sort": [{"field": "ord", "order": "ascending"}], "as": ["s0","s1"]}, {"calculate": "datum.s0 - datum.su - datum.wu - datum.n / 2", "as": "x0"}, {"calculate": "datum.s1 - datum.su - datum.wu - datum.n / 2", "as": "x1"}],
   "mark": {"type": "bar"},
   "encoding": {"y": {"field": "year", "type": "nominal", "scale": {"type": "band", "domain": ["h","2011","2012","2014","2015","2016"], "paddingInner": 0.1, "paddingOuter": 0.5372, "align": 0}, "axis": {"labelExpr": "datum.value == 'h' ? '' : datum.value", "ticks": false, "domain": false, "labelPadding": 19, "labelFontSize": 12.5, "labelColor": "#111", "title": null, "grid": false}}, "x": {"field": "x0", "type": "quantitative", "scale": {"domain": [-115, 115], "nice": false, "zero": false}, "axis": null}, "x2": {"field": "x1"}, "color": {"field": "cat", "type": "nominal", "scale": {"domain": ["su","wu","n","wf","sf"], "range": ["#df0a32","#e58484","#dbd8d7","#65b3a2","#008265"]}, "legend": null}}},
  {"transform": [{"calculate": "(datum.su + datum.wu) + '%'", "as": "lab"}], "mark": {"type": "text", "fontSize": 10.5, "color": "#262626"},
   "encoding": {"y": {"field": "year", "type": "nominal", "scale": {"type": "band", "domain": ["h","2011","2012","2014","2015","2016"], "paddingInner": 0.1, "paddingOuter": 0.5372, "align": 0}}, "x": {"datum": -107, "type": "quantitative", "scale": {"domain": [-115, 115], "nice": false, "zero": false}, "axis": null}, "text": {"field": "lab"}}},
  {"transform": [{"calculate": "datum.n + '%'", "as": "lab"}], "mark": {"type": "text", "fontSize": 10.5, "color": "#262626"},
   "encoding": {"y": {"field": "year", "type": "nominal", "scale": {"type": "band", "domain": ["h","2011","2012","2014","2015","2016"], "paddingInner": 0.1, "paddingOuter": 0.5372, "align": 0}}, "x": {"datum": 0, "type": "quantitative", "scale": {"domain": [-115, 115], "nice": false, "zero": false}, "axis": null}, "text": {"field": "lab"}}},
  {"transform": [{"calculate": "(datum.wf + datum.sf) + '%'", "as": "lab"}], "mark": {"type": "text", "fontSize": 10.5, "color": "#262626"},
   "encoding": {"y": {"field": "year", "type": "nominal", "scale": {"type": "band", "domain": ["h","2011","2012","2014","2015","2016"], "paddingInner": 0.1, "paddingOuter": 0.5372, "align": 0}}, "x": {"datum": 109, "type": "quantitative", "scale": {"domain": [-115, 115], "nice": false, "zero": false}, "axis": null}, "text": {"field": "lab"}}}
 ]},

{"width": 341, "height": 136, "data": {"name": "bars"}, "transform": [{"filter": "datum.q == 'N6'"}],
 "layer": [
  {"data": {"name": "titles"}, "transform": [{"filter": "datum.q == 'N6'"}], "mark": {"type": "rule", "strokeDash": [3, 3], "color": "#222", "strokeWidth": 1},
   "encoding": {"x": {"datum": 0, "type": "quantitative", "scale": {"domain": [-115, 115], "nice": false, "zero": false}, "axis": null}, "y": {"datum": "2011", "type": "nominal", "scale": {"type": "band", "domain": ["h","2011","2012","2014","2015","2016"], "paddingInner": 0.1, "paddingOuter": 0.5372, "align": 0}}, "y2": {"datum": "2016"}}},
  {"data": {"name": "titles"}, "transform": [{"filter": "datum.q == 'N6'"}], "mark": {"type": "rect", "color": "#e5e5e5"},
   "encoding": {"x": {"datum": -115, "type": "quantitative", "scale": {"domain": [-115, 115], "nice": false, "zero": false}, "axis": null}, "x2": {"datum": 115}, "y": {"datum": "h", "type": "nominal", "scale": {"type": "band", "domain": ["h","2011","2012","2014","2015","2016"], "paddingInner": 0.1, "paddingOuter": 0.5372, "align": 0}}}},
  {"data": {"name": "titles"}, "transform": [{"filter": "datum.q == 'N6'"}], "mark": {"type": "text", "fontSize": 14, "color": "#1a1a1a"},
   "encoding": {"x": {"datum": 0, "type": "quantitative", "scale": {"domain": [-115, 115], "nice": false, "zero": false}, "axis": null}, "y": {"datum": "h", "type": "nominal", "scale": {"type": "band", "domain": ["h","2011","2012","2014","2015","2016"], "paddingInner": 0.1, "paddingOuter": 0.5372, "align": 0}}, "text": {"field": "t", "type": "nominal"}}},
  {"transform": [{"fold": ["su","wu","n","wf","sf"], "as": ["cat","v"]}, {"calculate": "indexof(['su','wu','n','wf','sf'], datum.cat)", "as": "ord"}, {"stack": "v", "groupby": ["year"], "sort": [{"field": "ord", "order": "ascending"}], "as": ["s0","s1"]}, {"calculate": "datum.s0 - datum.su - datum.wu - datum.n / 2", "as": "x0"}, {"calculate": "datum.s1 - datum.su - datum.wu - datum.n / 2", "as": "x1"}],
   "mark": {"type": "bar"},
   "encoding": {"y": {"field": "year", "type": "nominal", "scale": {"type": "band", "domain": ["h","2011","2012","2014","2015","2016"], "paddingInner": 0.1, "paddingOuter": 0.5372, "align": 0}, "axis": {"labelExpr": "datum.value == 'h' ? '' : datum.value", "ticks": false, "domain": false, "labelPadding": 19, "labelFontSize": 12.5, "labelColor": "#111", "title": null, "grid": false}}, "x": {"field": "x0", "type": "quantitative", "scale": {"domain": [-115, 115], "nice": false, "zero": false}, "axis": null}, "x2": {"field": "x1"}, "color": {"field": "cat", "type": "nominal", "scale": {"domain": ["su","wu","n","wf","sf"], "range": ["#df0a32","#e58484","#dbd8d7","#65b3a2","#008265"]}, "legend": null}}},
  {"transform": [{"calculate": "(datum.su + datum.wu) + '%'", "as": "lab"}], "mark": {"type": "text", "fontSize": 10.5, "color": "#262626"},
   "encoding": {"y": {"field": "year", "type": "nominal", "scale": {"type": "band", "domain": ["h","2011","2012","2014","2015","2016"], "paddingInner": 0.1, "paddingOuter": 0.5372, "align": 0}}, "x": {"datum": -107, "type": "quantitative", "scale": {"domain": [-115, 115], "nice": false, "zero": false}, "axis": null}, "text": {"field": "lab"}}},
  {"transform": [{"calculate": "datum.n + '%'", "as": "lab"}], "mark": {"type": "text", "fontSize": 10.5, "color": "#262626"},
   "encoding": {"y": {"field": "year", "type": "nominal", "scale": {"type": "band", "domain": ["h","2011","2012","2014","2015","2016"], "paddingInner": 0.1, "paddingOuter": 0.5372, "align": 0}}, "x": {"datum": 0, "type": "quantitative", "scale": {"domain": [-115, 115], "nice": false, "zero": false}, "axis": null}, "text": {"field": "lab"}}},
  {"transform": [{"calculate": "(datum.wf + datum.sf) + '%'", "as": "lab"}], "mark": {"type": "text", "fontSize": 10.5, "color": "#262626"},
   "encoding": {"y": {"field": "year", "type": "nominal", "scale": {"type": "band", "domain": ["h","2011","2012","2014","2015","2016"], "paddingInner": 0.1, "paddingOuter": 0.5372, "align": 0}}, "x": {"datum": 109, "type": "quantitative", "scale": {"domain": [-115, 115], "nice": false, "zero": false}, "axis": null}, "text": {"field": "lab"}}}
 ]},

{"width": 341, "height": 118, "data": {"name": "bars"}, "transform": [{"filter": "datum.q == 'N7'"}],
 "layer": [
  {"data": {"name": "titles"}, "transform": [{"filter": "datum.q == 'N7'"}], "mark": {"type": "rule", "strokeDash": [3, 3], "color": "#222", "strokeWidth": 1},
   "encoding": {"x": {"datum": 0, "type": "quantitative", "scale": {"domain": [-115, 115], "nice": false, "zero": false}}, "y": {"datum": "2011", "type": "nominal", "scale": {"type": "band", "domain": ["h","2011","2012","2014","2015","2016"], "paddingInner": 0.1, "paddingOuter": 0.0756, "align": 0}}, "y2": {"datum": "2016"}}},
  {"data": {"name": "titles"}, "transform": [{"filter": "datum.q == 'N7'"}], "mark": {"type": "rect", "color": "#e5e5e5"},
   "encoding": {"x": {"datum": -115, "type": "quantitative", "scale": {"domain": [-115, 115], "nice": false, "zero": false}}, "x2": {"datum": 115}, "y": {"datum": "h", "type": "nominal", "scale": {"type": "band", "domain": ["h","2011","2012","2014","2015","2016"], "paddingInner": 0.1, "paddingOuter": 0.0756, "align": 0}}}},
  {"data": {"name": "titles"}, "transform": [{"filter": "datum.q == 'N7'"}], "mark": {"type": "text", "fontSize": 14, "color": "#1a1a1a"},
   "encoding": {"x": {"datum": 0, "type": "quantitative", "scale": {"domain": [-115, 115], "nice": false, "zero": false}}, "y": {"datum": "h", "type": "nominal", "scale": {"type": "band", "domain": ["h","2011","2012","2014","2015","2016"], "paddingInner": 0.1, "paddingOuter": 0.0756, "align": 0}}, "text": {"field": "t", "type": "nominal"}}},
  {"transform": [{"fold": ["su","wu","n","wf","sf"], "as": ["cat","v"]}, {"calculate": "indexof(['su','wu','n','wf','sf'], datum.cat)", "as": "ord"}, {"stack": "v", "groupby": ["year"], "sort": [{"field": "ord", "order": "ascending"}], "as": ["s0","s1"]}, {"calculate": "datum.s0 - datum.su - datum.wu - datum.n / 2", "as": "x0"}, {"calculate": "datum.s1 - datum.su - datum.wu - datum.n / 2", "as": "x1"}],
   "mark": {"type": "bar"},
   "encoding": {"y": {"field": "year", "type": "nominal", "scale": {"type": "band", "domain": ["h","2011","2012","2014","2015","2016"], "paddingInner": 0.1, "paddingOuter": 0.0756, "align": 0}, "axis": {"labelExpr": "datum.value == 'h' ? '' : datum.value", "ticks": false, "domain": false, "labelPadding": 19, "labelFontSize": 12.5, "labelColor": "#111", "title": null, "grid": false}}, "x": {"field": "x0", "type": "quantitative", "scale": {"domain": [-115, 115], "nice": false, "zero": false}, "axis": {"values": [-100, -50, 0, 50, 100], "labelExpr": "abs(datum.value)", "title": "Percentage", "titleFontSize": 15, "titleFontWeight": "normal", "titleColor": "#111", "titlePadding": 6, "labelFontSize": 12.5, "labelColor": "#111", "labelPadding": 1, "domainColor": "#111", "domainWidth": 1.6, "tickColor": "#111", "tickSize": 4, "tickWidth": 1, "grid": false}}, "x2": {"field": "x1"}, "color": {"field": "cat", "type": "nominal", "scale": {"domain": ["su","wu","n","wf","sf"], "range": ["#df0a32","#e58484","#dbd8d7","#65b3a2","#008265"]}, "legend": null}}},
  {"transform": [{"calculate": "(datum.su + datum.wu) + '%'", "as": "lab"}], "mark": {"type": "text", "fontSize": 10.5, "color": "#262626"},
   "encoding": {"y": {"field": "year", "type": "nominal", "scale": {"type": "band", "domain": ["h","2011","2012","2014","2015","2016"], "paddingInner": 0.1, "paddingOuter": 0.0756, "align": 0}}, "x": {"datum": -107, "type": "quantitative", "scale": {"domain": [-115, 115], "nice": false, "zero": false}}, "text": {"field": "lab"}}},
  {"transform": [{"calculate": "datum.n + '%'", "as": "lab"}], "mark": {"type": "text", "fontSize": 10.5, "color": "#262626"},
   "encoding": {"y": {"field": "year", "type": "nominal", "scale": {"type": "band", "domain": ["h","2011","2012","2014","2015","2016"], "paddingInner": 0.1, "paddingOuter": 0.0756, "align": 0}}, "x": {"datum": 0, "type": "quantitative", "scale": {"domain": [-115, 115], "nice": false, "zero": false}}, "text": {"field": "lab"}}},
  {"transform": [{"calculate": "(datum.wf + datum.sf) + '%'", "as": "lab"}], "mark": {"type": "text", "fontSize": 10.5, "color": "#262626"},
   "encoding": {"y": {"field": "year", "type": "nominal", "scale": {"type": "band", "domain": ["h","2011","2012","2014","2015","2016"], "paddingInner": 0.1, "paddingOuter": 0.0756, "align": 0}}, "x": {"datum": 109, "type": "quantitative", "scale": {"domain": [-115, 115], "nice": false, "zero": false}}, "text": {"field": "lab"}}}
 ]}
],
"spacing": 0, "bounds": "flush", "center": true
}
]
}
